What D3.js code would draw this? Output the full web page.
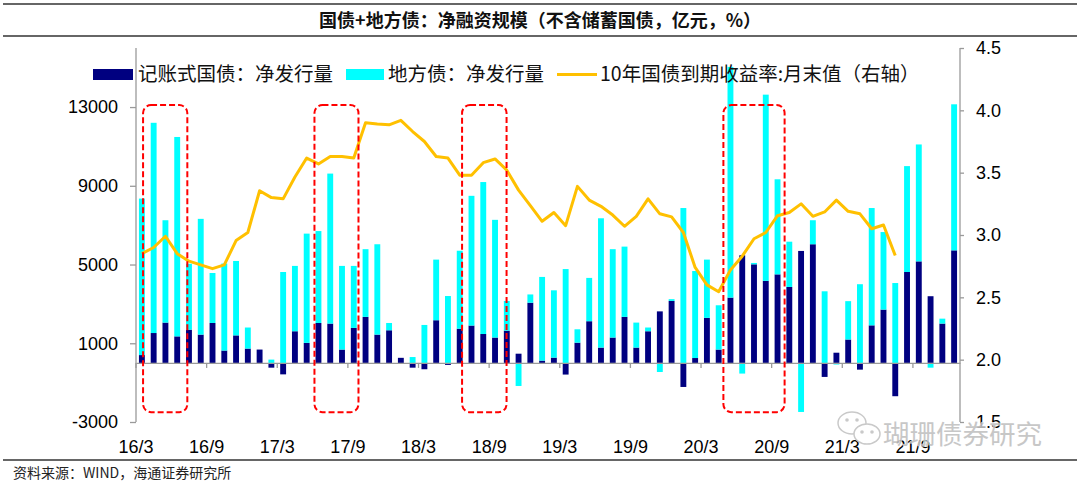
<!DOCTYPE html>
<html>
<head>
<meta charset="utf-8">
<script src="https://cdn.jsdelivr.net/npm/d3@7/dist/d3.min.js"></script>
<style>
  html, body { margin: 0; padding: 0; background: #fff; }
  svg { display: block; }
  .num { font-family: "Liberation Sans", Arial, sans-serif; }
  .cjk { font-family: "Noto Sans CJK SC", "Noto Sans", sans-serif; }
</style>
</head>
<body>
<svg id="chart" width="1080" height="483"></svg>
<script>
// ---------------- DATA ----------------
const categories = [
  "16/3","16/4","16/5","16/6","16/7","16/8","16/9","16/10","16/11","16/12",
  "17/1","17/2","17/3","17/4","17/5","17/6","17/7","17/8","17/9","17/10","17/11","17/12",
  "18/1","18/2","18/3","18/4","18/5","18/6","18/7","18/8","18/9","18/10","18/11","18/12",
  "19/1","19/2","19/3","19/4","19/5","19/6","19/7","19/8","19/9","19/10","19/11","19/12",
  "20/1","20/2","20/3","20/4","20/5","20/6","20/7","20/8","20/9","20/10","20/11","20/12",
  "21/1","21/2","21/3","21/4","21/5","21/6","21/7","21/8","21/9","21/10","21/11","21/12"
];
// 记账式国债：净发行量（亿元）
const treasury = [
  400, 1520, 2050, 1350, 1690, 1440, 2030, 630, 1400, 730,
  680, -240, -580, 1610, 1020, 2030, 2000, 680, 1780, 2340, 1440, 1660,
  260, -240, -320, 2170, -100, 1740, 1900, 1470, 1290, 1640, 470, 3060,
  120, 270, -590, 1030, 2120, 780, 1290, 2340, 780, 1610, 2620, 3150,
  -1220, 250, 2290, 680, 3320, 5470, 5010, 4170, 4500, 3860, 5690, 6030,
  -710, 520, 1190, -340, 1910, 2710, -1690, 4620, 5160, 3390, 2000, 5720
];
// 地方债：净发行量（亿元）
const local = [
  7950, 10680, 5200, 10130, 3350, 5880, 2540, 4420, 3780, 1070,
  0, 170, 4620, 3320, 5550, 4670, 7620, 4250, 3150, 3440, 4590, 370,
  0, 300, 1930, 3080, 3400, 3960, 6590, 7720, 5980, 1510, -1170, 420,
  4250, 3420, 4770, 680, 2200, 6570, 4490, 3570, 1270, 190, -460, 90,
  7870, 4420, 2960, 2250, 11720, -540, 70, 9460, 4830, 2300, -2490, 1220,
  3640, -80, 1950, 4000, 5960, 3940, 4060, 5380, 5940, -240, 250, 7420
];
// 10年国债到期收益率：月末值（%，右轴）
const yield10y = [
  2.85, 2.90, 2.99, 2.85, 2.79, 2.76, 2.73, 2.76, 2.955, 3.02,
  3.355, 3.30, 3.29, 3.465, 3.617, 3.57, 3.63, 3.63, 3.617, 3.90, 3.89, 3.884,
  3.92, 3.83, 3.75, 3.63, 3.617, 3.48, 3.48, 3.58, 3.61, 3.52, 3.36, 3.235,
  3.11, 3.18, 3.075, 3.39, 3.28, 3.23, 3.16, 3.07, 3.15, 3.29, 3.17, 3.145,
  3.02, 2.74, 2.60, 2.545, 2.72, 2.83, 2.97, 3.02, 3.155, 3.18, 3.25, 3.15,
  3.185, 3.28, 3.19, 3.17, 3.05, 3.08, 2.835
];
const xTickLabels = ["16/3","16/9","17/3","17/9","18/3","18/9","19/3","19/9","20/3","20/9","21/3","21/9"];
const leftTicks = [-3000, 1000, 5000, 9000, 13000];
const rightTicks = [1.5, 2.0, 2.5, 3.0, 3.5, 4.0, 4.5];
// highlighted periods (category index span) for dashed boxes
const boxFrom = [0.1, 14.66, 27.2, 49.4];
const boxTo   = [3.86, 18.4, 30.98, 54.6];

const titleText = "国债+地方债：净融资规模（不含储蓄国债，亿元，%）";
const legendNames = ["记账式国债：净发行量", "地方债：净发行量", "10年国债到期收益率:月末值（右轴）"];
const sourceText = "资料来源：WIND，海通证券研究所";
const watermarkText = "瑚珊债券研究";

// ---------------- CHART ----------------
const C_NAVY = "#000080", C_CYAN = "#00FFFF", C_GOLD = "#FFC000", C_RED = "#FF0000";
const svg = d3.select("#chart");
const plot = { left: 136, right: 960, top: 48, bottom: 422 };

const x = d3.scaleBand().domain(categories).range([plot.left, plot.right])
  .paddingInner(0.5).paddingOuter(0.25);
const step = x.step(), bw = x.bandwidth();
const yL = d3.scaleLinear().domain([-3000, 16000]).range([plot.bottom, plot.top]);
const yR = d3.scaleLinear().domain([1.5, 4.5]).range([plot.bottom, plot.top]);

// frame lines + title
svg.append("line").attr("x1", 3).attr("x2", 1077).attr("y1", 4).attr("y2", 4)
  .attr("stroke", "#333").attr("stroke-width", 1.5);
svg.append("line").attr("x1", 3).attr("x2", 1077).attr("y1", 36).attr("y2", 36)
  .attr("stroke", "#333").attr("stroke-width", 1.5);
svg.append("text").attr("class", "cjk").attr("x", 540).attr("y", 27)
  .attr("text-anchor", "middle").attr("font-size", 18).attr("font-weight", "bold")
  .attr("fill", "#111").text(titleText);
svg.append("line").attr("x1", 3).attr("x2", 1077).attr("y1", 460).attr("y2", 460)
  .attr("stroke", "#333").attr("stroke-width", 1.5);
svg.append("text").attr("class", "cjk").attr("x", 13).attr("y", 478)
  .attr("font-size", 14).attr("fill", "#222").text(sourceText);

// stacked bars
const table = categories.map((c, i) => ({ cat: c, treasury: treasury[i], local: local[i] }));
const stacked = d3.stack().keys(["treasury", "local"]).offset(d3.stackOffsetDiverging)(table);
const colors = { treasury: C_NAVY, local: C_CYAN };
svg.append("g").selectAll("g").data(stacked).join("g")
  .attr("fill", s => colors[s.key])
  .selectAll("rect").data(s => s).join("rect")
  .attr("x", d => x(d.data.cat))
  .attr("width", bw)
  .attr("y", d => yL(Math.max(d[0], d[1])))
  .attr("height", d => Math.abs(yL(d[0]) - yL(d[1])));

// axes
const axisColor = "#9a9a9a";
const gL = svg.append("g").attr("transform", `translate(${plot.left},0)`)
  .call(d3.axisLeft(yL).tickValues(leftTicks).tickSizeInner(6).tickSizeOuter(0).tickPadding(12)
    .tickFormat(d => String(d)));
const gR = svg.append("g").attr("transform", `translate(${plot.right},0)`)
  .call(d3.axisRight(yR).tickValues(rightTicks).tickSizeInner(4).tickSizeOuter(0).tickPadding(12)
    .tickFormat(d3.format(".1f")));
const gX = svg.append("g").attr("transform", `translate(0,${yL(0)})`)
  .call(d3.axisBottom(x).tickValues(xTickLabels).tickSizeInner(5).tickSizeOuter(0).tickPadding(72));
gX.selectAll(".tick").attr("transform", d => `translate(${x(d) + bw / 2 - step / 2},0)`);
[gL, gR, gX].forEach(g => {
  g.select(".domain").attr("stroke", axisColor).attr("stroke-width", 1.3);
  g.selectAll(".tick line").attr("stroke", axisColor).attr("stroke-width", 1.3);
  g.selectAll(".tick text").attr("class", "num").attr("font-size", 18).attr("fill", "#000");
});
gL.select(".domain").attr("d", `M0,${plot.top}V${plot.bottom}`);
gR.select(".domain").attr("d", `M0,${plot.top}V${plot.bottom}`);

// yield line
const line = d3.line().x((d, i) => x(categories[i]) + bw / 2).y(d => yR(d));
svg.append("path").datum(yield10y).attr("d", line)
  .attr("fill", "none").attr("stroke", C_GOLD).attr("stroke-width", 3)
  .attr("stroke-linejoin", "round");

// dashed highlight boxes
const x0 = x(categories[0]) + bw / 2;
svg.append("g").selectAll("rect").data(boxFrom).join("rect")
  .attr("x", (d) => x0 + d * step)
  .attr("width", (d, i) => (boxTo[i] - d) * step)
  .attr("y", yL(13100))
  .attr("height", yL(-2500) - yL(13100))
  .attr("rx", 8).attr("ry", 8)
  .attr("fill", "none").attr("stroke", C_RED).attr("stroke-width", 2)
  .attr("stroke-dasharray", "6,3");

// legend
const lg = svg.append("g");
lg.append("rect").attr("x", 93).attr("y", 69).attr("width", 40).attr("height", 11).attr("fill", C_NAVY);
lg.append("text").attr("class", "cjk").attr("x", 138).attr("y", 81).attr("font-size", 19.5).attr("fill", "#111").text(legendNames[0]);
lg.append("rect").attr("x", 346).attr("y", 69).attr("width", 38).attr("height", 11).attr("fill", C_CYAN);
lg.append("text").attr("class", "cjk").attr("x", 388).attr("y", 81).attr("font-size", 19.5).attr("fill", "#111").text(legendNames[1]);
lg.append("line").attr("x1", 557).attr("x2", 597).attr("y1", 74.5).attr("y2", 74.5).attr("stroke", C_GOLD).attr("stroke-width", 3);
lg.append("text").attr("class", "cjk").attr("x", 600).attr("y", 81).attr("font-size", 19.5).attr("fill", "#111").text(legendNames[2]);

// watermark
const wm = svg.append("g").attr("opacity", 0.9);
wm.append("ellipse").attr("cx", 852).attr("cy", 423).attr("rx", 14).attr("ry", 11)
  .attr("fill", "#fff").attr("stroke", "#c4c4c4").attr("stroke-width", 1.5);
wm.append("ellipse").attr("cx", 867).attr("cy", 434).attr("rx", 13).attr("ry", 10)
  .attr("fill", "#fff").attr("stroke", "#c4c4c4").attr("stroke-width", 1.5);
[[847, 420], [857, 420], [862, 432], [872, 432]].forEach(p =>
  wm.append("circle").attr("cx", p[0]).attr("cy", p[1]).attr("r", 1.8).attr("fill", "#c4c4c4"));
wm.append("text").attr("class", "cjk").attr("x", 883).attr("y", 444)
  .attr("font-size", 26.5).attr("fill", "#c2c2c2")
  .attr("stroke", "#fff").attr("stroke-width", 0.8).attr("paint-order", "stroke")
  .text(watermarkText);
</script>
</body>
</html>
